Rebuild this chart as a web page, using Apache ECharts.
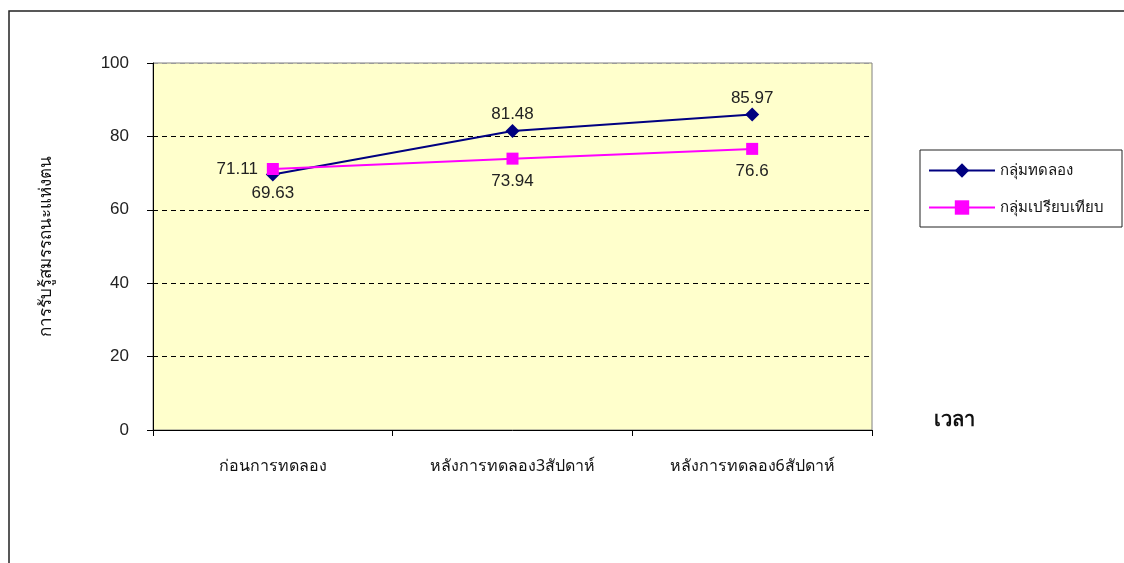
<!DOCTYPE html>
<html>
<head>
<meta charset="utf-8">
<script src="https://cdn.jsdelivr.net/npm/echarts@6/dist/echarts.min.js"></script>
<style>
  html, body { margin: 0; padding: 0; background: #fff; }
  #chart { width: 1124px; height: 563px; }
</style>
</head>
<body>
<div id="chart"></div>
<script>
// data
var categories = ['ก่อนการทดลอง', 'หลังการทดลอง3สัปดาห์', 'หลังการทดลอง6สัปดาห์'];
var seriesNames = ['กลุ่มทดลอง', 'กลุ่มเปรียบเทียบ'];
var experimental = [69.63, 81.48, 85.97];
var comparison = [71.11, 73.94, 76.6];
var yTitle = 'การรับรู้สมรรถนะแห่งตน';
var xTitle = 'เวลา';

var numFont = 'Liberation Sans, Arial, sans-serif';
var thaiFont = 'Noto Sans, DejaVu Sans, sans-serif';

var chart = echarts.init(document.getElementById('chart'));

var option = {
  backgroundColor: '#fff',
  animation: false,
  graphic: [
    {
      type: 'rect',
      shape: { x: 9, y: 11, width: 1140, height: 580 },
      style: { fill: 'none', stroke: '#222', lineWidth: 1.5 },
      z: 0
    },
    {
      type: 'text',
      left: 934, top: 410,
      style: { text: xTitle, font: 'bold 20px ' + thaiFont, fill: '#111' }
    }
  ],
  legend: {
    orient: 'vertical',
    left: 920, top: 150,
    itemWidth: 66, itemHeight: 18,
    itemGap: 22,
    padding: [13, 18, 12, 8],
    borderColor: '#222', borderWidth: 1,
    textStyle: { fontFamily: thaiFont, fontSize: 15, color: '#111' },
    data: seriesNames
  },
  grid: { left: 153, right: 252, top: 63, bottom: 133, show: true,
          backgroundColor: '#FFFFCC', borderColor: '#808080', borderWidth: 1 },
  xAxis: {
    type: 'category',
    data: categories,
    boundaryGap: true,
    axisLine: { lineStyle: { color: '#000', width: 1 } },
    axisTick: { show: true, length: 6, lineStyle: { color: '#000' } },
    axisLabel: { margin: 28, fontFamily: thaiFont, fontSize: 16, color: '#111' }
  },
  yAxis: {
    type: 'value',
    min: 0, max: 100, interval: 20,
    name: yTitle,
    nameLocation: 'middle',
    nameGap: 98,
    nameRotate: 90,
    nameTextStyle: { fontFamily: thaiFont, fontSize: 17, color: '#111' },
    axisLine: { show: true, lineStyle: { color: '#000', width: 1 } },
    axisTick: { show: true, length: 6, lineStyle: { color: '#000' } },
    axisLabel: { margin: 24, fontFamily: numFont, fontSize: 17, color: '#222' },
    splitLine: { show: true, lineStyle: {
      color: ['#000', '#000', '#000', '#000', '#000', '#9a9a9a'], type: [5, 4], width: 1 } }
  },
  series: [
    {
      name: seriesNames[0],
      type: 'line',
      symbol: 'diamond', symbolSize: 14,
      lineStyle: { color: '#000080', width: 2 },
      itemStyle: { color: '#000080' },
      label: { show: true, fontFamily: numFont, fontSize: 17, color: '#222', distance: 1,
               position: 'top' },
      data: [
        { value: experimental[0], label: { position: 'bottom', distance: 3 } },
        { value: experimental[1] },
        { value: experimental[2] }
      ],
      z: 3
    },
    {
      name: seriesNames[1],
      type: 'line',
      symbol: 'rect', symbolSize: 12,
      lineStyle: { color: '#FF00FF', width: 2 },
      itemStyle: { color: '#FF00FF' },
      label: { show: true, fontFamily: numFont, fontSize: 17, color: '#222', distance: 8,
               position: 'bottom' },
      data: [
        { value: comparison[0], label: { position: 'left', distance: 9 } },
        { value: comparison[1] },
        { value: comparison[2] }
      ],
      z: 4
    }
  ]
};

chart.setOption(option);
</script>
</body>
</html>
